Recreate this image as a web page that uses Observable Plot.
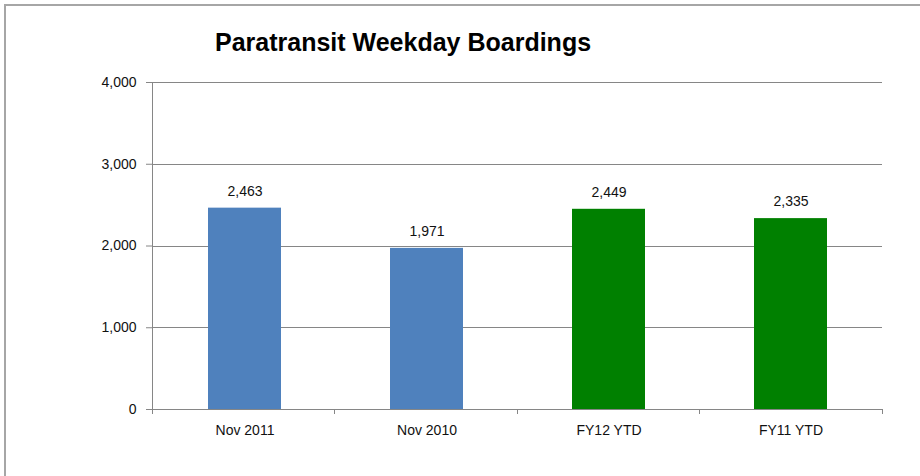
<!DOCTYPE html>
<html>
<head>
<meta charset="utf-8">
<script src="https://cdn.jsdelivr.net/npm/d3@7"></script>
<script src="https://cdn.jsdelivr.net/npm/@observablehq/plot@0.6"></script>
<style>
  html, body { margin: 0; padding: 0; background: #fff; }
  #wrap { position: relative; width: 920px; height: 476px; overflow: hidden; background: #fff; }
  #border { position: absolute; left: 4px; top: 4px; width: 1200px; height: 1200px; border: 2px solid #a6a6a6; box-sizing: border-box; }
  #title { position: absolute; left: 215px; top: 27px; font-family: "Liberation Sans", Arial, sans-serif; font-weight: bold; font-size: 25px; color: #000; white-space: nowrap; line-height: 30px; }
  #chart { position: absolute; left: 0; top: 0; }
  #chart svg { overflow: visible; }
</style>
</head>
<body>
<div id="wrap">
  <div id="border"></div>
  <div id="chart"></div>
  <div id="title">Paratransit Weekday Boardings</div>
</div>
<script>
const categories = ["Nov 2011", "Nov 2010", "FY12 YTD", "FY11 YTD"];
const boardings = [2463, 1971, 2449, 2335];
const groups = ["month", "month", "ytd", "ytd"];
const yTicks = [0, 1000, 2000, 3000, 4000];

const data = categories.map((c, i) => ({category: c, value: boardings[i], group: groups[i]}));

const axisColor = "#868686";

function axisLines(index, scales, values, dims) {
  const x0 = dims.marginLeft, x1 = dims.width - dims.marginRight;
  const yTop = dims.marginTop, yBase = dims.height - dims.marginBottom;
  const n = scales.x.domain ? scales.x.domain().length : categories.length;
  const step = (x1 - x0) / categories.length;
  const g = d3.create("svg:g").attr("stroke", axisColor).attr("stroke-width", 1).attr("shape-rendering", "crispEdges");
  g.append("line").attr("x1", x0).attr("x2", x0).attr("y1", yTop).attr("y2", yBase);
  for (let i = 0; i <= categories.length; i++) {
    const x = x0 + i * step;
    g.append("line").attr("x1", x).attr("x2", x).attr("y1", yBase).attr("y2", yBase + 5);
  }
  return g.node();
}

const chart = Plot.plot({
  width: 920,
  height: 476,
  marginLeft: 152,
  marginRight: 38,
  marginTop: 82,
  marginBottom: 67,
  style: {fontFamily: "'Liberation Sans', Arial, sans-serif", fontSize: "14px", color: "#111", background: "transparent"},
  x: {domain: categories, paddingInner: 0.6, paddingOuter: 0.3, label: null},
  y: {domain: [0, 4000], label: null},
  color: {domain: ["month", "ytd"], range: ["#4F81BD", "#008000"]},
  marks: [
    Plot.gridY(yTicks, {stroke: axisColor, strokeOpacity: 1, shapeRendering: "crispEdges"}),
    Plot.barY(data, {x: "category", y: "value", fill: "group"}),
    Plot.text(data, {x: "category", y: "value", text: d => d3.format(",")(d.value), dy: -17, lineAnchor: "middle", fill: "#111", fontSize: 14}),
    Plot.axisY(yTicks, {tickSize: 6, tickPadding: 10, tickFormat: d3.format(","), stroke: axisColor, label: null, fontSize: 14}),
    Plot.axisX({tickSize: 0, tickPadding: 16, label: null, fontSize: 14}),
    axisLines
  ]
});
document.getElementById("chart").appendChild(chart);
</script>
</body>
</html>
